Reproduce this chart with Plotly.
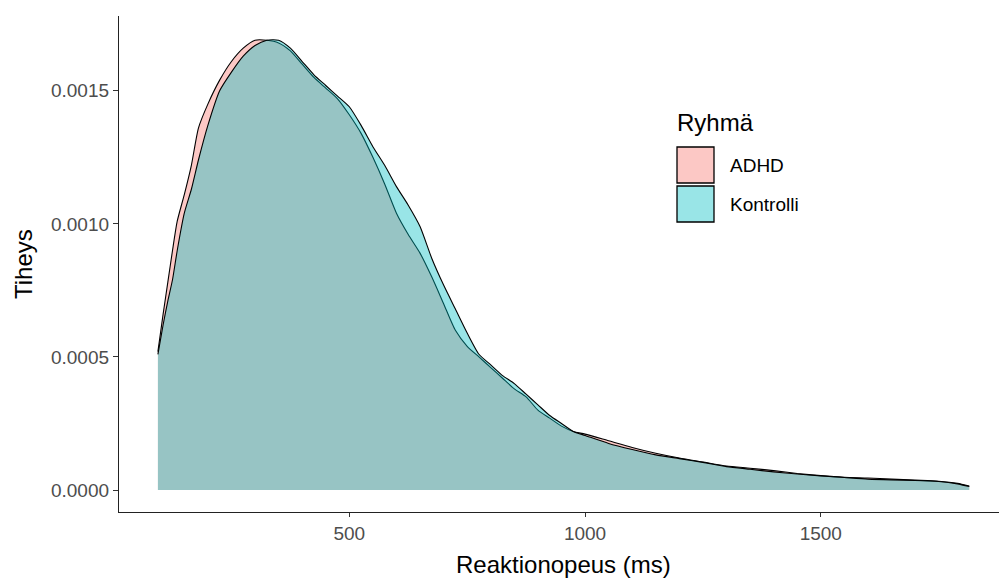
import plotly.graph_objects as go

# Data
rt_ms = [94, 105, 115, 125, 135, 150, 165, 180, 200, 225, 250, 275, 300, 325, 350,
         375, 400, 425, 450, 475, 500, 525, 550, 575, 600, 625, 650, 675, 700, 725,
         750, 775, 800, 825, 850, 875, 900, 925, 950, 975, 1000, 1050, 1100, 1150,
         1200, 1250, 1300, 1350, 1400, 1450, 1500, 1550, 1600, 1650, 1700, 1750,
         1790, 1815]

dens_adhd = [0.00052, 0.00066, 0.00078, 0.00090, 0.00101, 0.00111, 0.00122, 0.00136,
             0.00145, 0.00154, 0.00161, 0.00166, 0.00169, 0.00169, 0.00168,
             0.00165, 0.00160, 0.00155, 0.00151, 0.00147, 0.00141, 0.00134, 0.00125,
             0.00115, 0.00104, 0.00096, 0.00089, 0.00080, 0.00070, 0.00060,
             0.00054, 0.00050, 0.00046, 0.00042, 0.00038, 0.00035, 0.00030, 0.00027,
             0.00024, 0.00022, 0.00021, 0.000185, 0.000160, 0.000138,
             0.000120, 0.000105, 0.000090, 0.000082, 0.000073, 0.000062, 0.000054,
             0.000048, 0.000045, 0.000041, 0.000037, 0.000033, 0.000025, 0.000015]

dens_kontrolli = [0.00051, 0.00062, 0.00071, 0.00079, 0.00090, 0.00104, 0.00113, 0.00124,
                  0.00137, 0.00150, 0.00157, 0.00163, 0.00167, 0.00169, 0.00169,
                  0.00166, 0.00161, 0.00156, 0.00152, 0.00148, 0.00144, 0.00137, 0.00129,
                  0.00122, 0.00114, 0.00107, 0.00099, 0.00087, 0.00077, 0.00068,
                  0.00059, 0.00051, 0.00047, 0.00043, 0.00040, 0.00036, 0.00032, 0.00028,
                  0.00025, 0.00022, 0.000205, 0.000175, 0.000152, 0.000132,
                  0.000118, 0.000104, 0.000088, 0.000078, 0.000068, 0.000060, 0.000053,
                  0.000047, 0.000041, 0.000038, 0.000036, 0.000032, 0.000023, 0.000013]

groups = ["ADHD", "Kontrolli"]
fills = ["rgba(248,118,109,0.4)", "rgba(0,191,196,0.4)"]
x_ticks = [500, 1000, 1500]
y_ticks = [0, 0.0005, 0.0010, 0.0015]
y_tick_text = ["0.0000", "0.0005", "0.0010", "0.0015"]

FONT = "Arial, Liberation Sans, sans-serif"
W, H = 999, 579
L, R, T, B = 119, 0, 16, 67

fig = go.Figure()
for name, dens, fc in zip(groups, [dens_adhd, dens_kontrolli], fills):
    fig.add_trace(go.Scatter(
        x=rt_ms, y=dens, name=name, mode="lines", fill="tozeroy",
        fillcolor=fc, line=dict(color="black", width=1.1, shape="spline", smoothing=0.6),
        showlegend=False, hoverinfo="x+y+name"))

pw, ph = W - L - R, H - T - B


def px_x(p):
    return (p - L) / pw


def px_y(p):
    return (H - B - p) / ph


shapes = []
annotations = []
# Legend (drawn manually to match ggplot's large keys)
key_tops = [147, 186]
for name, fc, top in zip(groups, fills, key_tops):
    shapes.append(dict(type="rect", xref="paper", yref="paper",
                       x0=px_x(677), x1=px_x(714), y0=px_y(top + 36), y1=px_y(top),
                       fillcolor=fc, line=dict(color="black", width=1.3), layer="above"))
    annotations.append(dict(xref="paper", yref="paper", x=px_x(728), y=px_y(top + 18),
                            text=name, showarrow=False, xanchor="left", yanchor="middle",
                            font=dict(family=FONT, size=19, color="black")))
annotations.append(dict(xref="paper", yref="paper", x=px_x(675), y=px_y(122),
                        text="Ryhmä", showarrow=False, xanchor="left", yanchor="middle",
                        font=dict(family=FONT, size=24, color="black")))
# Axis titles
annotations.append(dict(xref="paper", yref="paper", x=px_x(563), y=px_y(564),
                        text="Reaktionopeus (ms)", showarrow=False, xanchor="center",
                        yanchor="middle", font=dict(family=FONT, size=24, color="black")))
annotations.append(dict(xref="paper", yref="paper", x=px_x(23), y=px_y(264),
                        text="Tiheys", showarrow=False, xanchor="center", yanchor="middle",
                        textangle=-90, font=dict(family=FONT, size=24, color="black")))

fig.update_layout(
    width=W, height=H, margin=dict(l=L, r=R, t=T, b=B, pad=0),
    paper_bgcolor="white", plot_bgcolor="white",
    font=dict(family=FONT),
    shapes=shapes, annotations=annotations,
    xaxis=dict(range=[11.5, 1878], tickvals=x_ticks, ticktext=[str(v) for v in x_ticks],
               showgrid=False, zeroline=False, showline=True, linecolor="#222222",
               linewidth=1.3, ticks="outside", ticklen=4, tickwidth=1.2, tickcolor="#333333",
               tickfont=dict(family=FONT, size=19, color="#4D4D4D")),
    yaxis=dict(range=[-0.0000826, 0.001781], tickvals=y_ticks, ticktext=y_tick_text,
               showgrid=False, zeroline=False, showline=True, linecolor="#222222",
               linewidth=1.3, ticks="outside", ticklen=5, tickwidth=1.2, tickcolor="#333333",
               tickfont=dict(family=FONT, size=19, color="#4D4D4D")),
)

fig.write_html(
    "out.html",
    config={"displayModeBar": False},
    post_script="document.body.style.margin='0';document.body.style.overflow='hidden';",
)
